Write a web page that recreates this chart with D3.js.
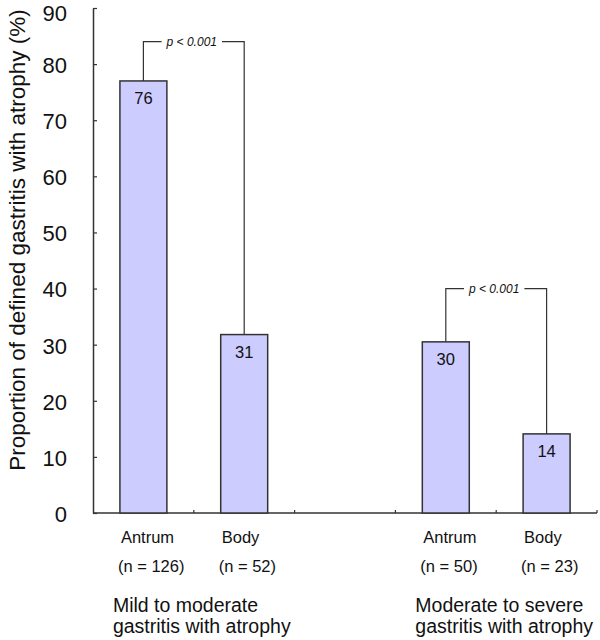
<!DOCTYPE html>
<meta charset="utf-8"/>
<head>
<style>
  body { margin:0; background:#fff; }
  text { font-family: Arial, "Liberation Sans", sans-serif; fill:#111; }
</style>
<script src="https://d3js.org/d3.v7.min.js" charset="utf-8"></script>
</head>
<body>
<script>
  // data
  var bars = ["a1", "b1", "gap", "a2", "b2"]; // middle slot is the empty space between groups
  var barKeys = ["a1", "b1", "a2", "b2"];
  var sites = ["Antrum", "Body", "Antrum", "Body"];
  var nLabels = ["(n = 126)", "(n = 52)", "(n = 50)", "(n = 23)"];
  var barValues = [77, 31.8, 30.5, 14.1]; // heights as drawn
  var valueLabels = ["76", "31", "30", "14"]; // printed numbers
  var groupLabels = [["Mild to moderate", "gastritis with atrophy"],
                     ["Moderate to severe", "gastritis with atrophy"]];
  var groupFirstBar = [0, 2];
  var bracketPairs = [[0, 1], [2, 3]];
  var bracketLevels = [84, 40];
  var pText = "p < 0.001";
  var yTicks = [0, 10, 20, 30, 40, 50, 60, 70, 80, 90];

  var width = 600, height = 640;
  var svg = d3.select("body").append("svg")
    .attr("width", width)
    .attr("height", height);

  var x = d3.scaleBand().domain(bars).range([93, 597]).padding(0);
  var y = d3.scaleLinear().domain([0, 90]).range([513, 8]);
  var barW = x.bandwidth() * 0.466;
  var cx = function(i) { return x(barKeys[i]) + x.bandwidth() / 2; };

  // y axis, ticks point inward
  var yAxis = svg.append("g")
    .attr("transform", "translate(93,0)")
    .call(d3.axisLeft(y).tickValues(yTicks).tickSizeInner(-4).tickSizeOuter(0).tickPadding(26));
  yAxis.select(".domain").attr("stroke", "#333").attr("stroke-width", 1.5);
  yAxis.selectAll(".tick line").attr("stroke", "#333").attr("stroke-width", 1.2);
  yAxis.selectAll(".tick text")
    .attr("font-size", 22)
    .attr("dy", function(d) { return d === 90 ? "0.55em" : "0.38em"; }) // keep top label inside the page
    .attr("font-family", "Arial, 'Liberation Sans', sans-serif")
    .attr("fill", "#111");

  // x axis line with little ticks at the band edges
  svg.append("line")
    .attr("x1", 93).attr("x2", 597).attr("y1", y(0)).attr("y2", y(0))
    .attr("stroke", "#333").attr("stroke-width", 1.5);
  svg.selectAll(".xtick").data(bars).enter().append("line")
    .attr("class", "xtick")
    .attr("x1", function(d) { return x(d) + x.bandwidth(); })
    .attr("x2", function(d) { return x(d) + x.bandwidth(); })
    .attr("y1", y(0)).attr("y2", y(0) - 3)
    .attr("stroke", "#333").attr("stroke-width", 1.2);

  // bars
  svg.selectAll(".bar").data(barValues).enter().append("rect")
    .attr("class", "bar")
    .attr("x", function(d, i) { return cx(i) - barW / 2; })
    .attr("y", function(d) { return y(d); })
    .attr("width", barW)
    .attr("height", function(d) { return y(0) - y(d); })
    .attr("fill", "#ccccff")
    .attr("stroke", "#333")
    .attr("stroke-width", 1.5);

  svg.selectAll(".val").data(valueLabels).enter().append("text")
    .attr("class", "val")
    .attr("x", function(d, i) { return cx(i); })
    .attr("y", function(d, i) { return y(barValues[i]) + 23; })
    .attr("text-anchor", "middle")
    .attr("font-size", 16.5)
    .text(function(d) { return d; });

  // p-value brackets
  bracketPairs.forEach(function(p, k) {
    var x1 = cx(p[0]), x2 = cx(p[1]);
    var yl = y(bracketLevels[k]);
    var mid = (x1 + x2) / 2 - 2;
    var t = svg.append("text")
      .attr("x", mid).attr("y", yl + 4)
      .attr("text-anchor", "middle")
      .attr("font-size", 12)
      .attr("font-style", "italic")
      .text(pText);
    var half = t.node().getComputedTextLength() / 2 + 5;
    var path = d3.path();
    path.moveTo(x1, y(barValues[p[0]]));
    path.lineTo(x1, yl);
    path.lineTo(mid - half, yl);
    path.moveTo(mid + half, yl);
    path.lineTo(x2, yl);
    path.lineTo(x2, y(barValues[p[1]]));
    svg.append("path").attr("d", path.toString())
      .attr("fill", "none").attr("stroke", "#333").attr("stroke-width", 1.2);
  });

  // category labels
  svg.selectAll(".site").data(sites).enter().append("text")
    .attr("x", function(d, i) { return cx(i) - barW / 2 + 1; })
    .attr("y", 543)
    .attr("font-size", 16.5)
    .text(function(d) { return d; });
  svg.selectAll(".nlab").data(nLabels).enter().append("text")
    .attr("x", function(d, i) { return cx(i) - barW / 2 - 2; })
    .attr("y", 572)
    .attr("font-size", 16.5)
    .text(function(d) { return d; });

  groupLabels.forEach(function(lines, g) {
    var gx = cx(groupFirstBar[g]) - barW / 2 - 7;
    var t = svg.append("text").attr("font-size", 19.5);
    lines.forEach(function(s, j) {
      t.append("tspan").attr("x", gx).attr("y", 612 + j * 21).text(s);
    });
  });

  // y title
  svg.append("text")
    .attr("transform", "translate(25,240) rotate(-90)")
    .attr("text-anchor", "middle")
    .attr("font-size", 22.5)
    .text("Proportion of defined gastritis with atrophy (%)");
</script>
</body>
</html>
